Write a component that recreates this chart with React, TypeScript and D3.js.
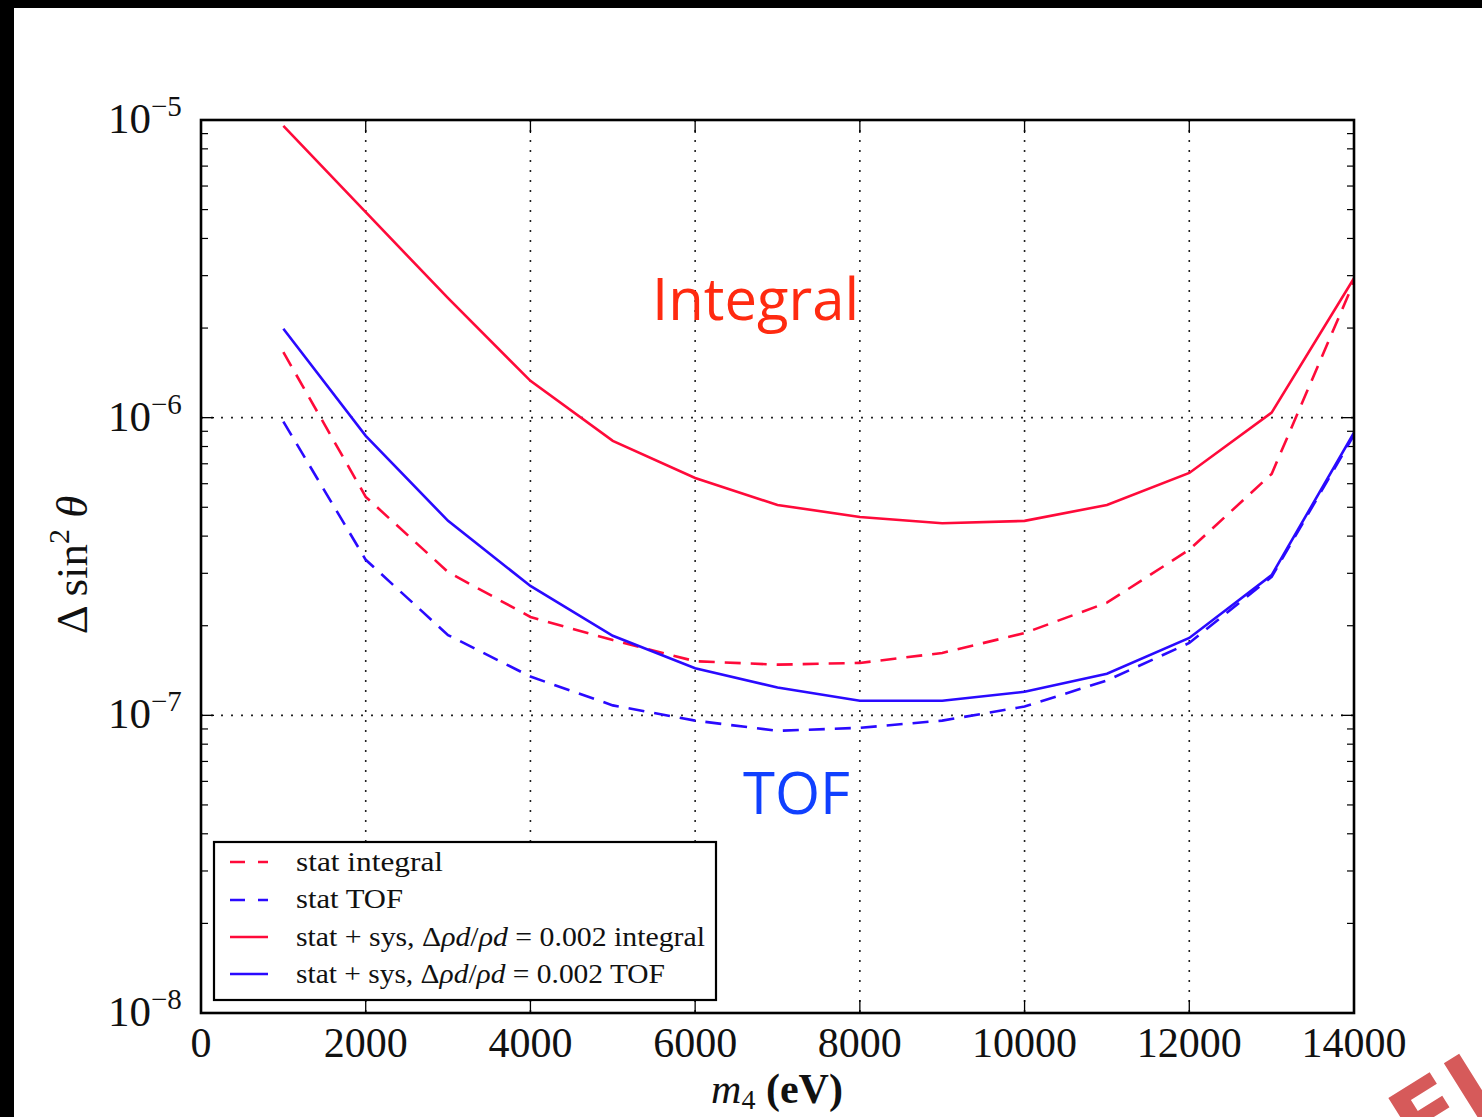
import React from "react";
import * as d3 from "d3";

const masses = [1000, 2000, 3000, 4000, 5000, 6000, 7000, 8000, 9000, 10000, 11000, 12000, 13000, 14000];
const statIntegral = [1.66e-6, 5.42e-7, 3.03e-7, 2.14e-7, 1.79e-7, 1.52e-7, 1.48e-7, 1.5e-7, 1.62e-7, 1.89e-7, 2.39e-7, 3.6e-7, 6.47e-7, 2.86e-6];
const statTOF = [9.7e-7, 3.33e-7, 1.86e-7, 1.35e-7, 1.08e-7, 9.6e-8, 8.87e-8, 9.08e-8, 9.6e-8, 1.07e-7, 1.31e-7, 1.75e-7, 2.92e-7, 8.75e-7];
const sysIntegral = [9.55e-6, 4.9e-6, 2.52e-6, 1.33e-6, 8.36e-7, 6.27e-7, 5.09e-7, 4.64e-7, 4.42e-7, 4.5e-7, 5.09e-7, 6.52e-7, 1.04e-6, 2.94e-6];
const sysTOF = [1.99e-6, 8.69e-7, 4.5e-7, 2.72e-7, 1.85e-7, 1.44e-7, 1.24e-7, 1.12e-7, 1.12e-7, 1.2e-7, 1.38e-7, 1.82e-7, 2.96e-7, 8.9e-7];
const xTicks = [0, 2000, 4000, 6000, 8000, 10000, 12000, 14000];
const yExponents = [-8, -7, -6, -5];

const RED = "#ff0a3a";
const BLUE = "#2a0aff";

export default function App() {
  const W = 1482, H = 1117;
  const x = d3.scaleLinear().domain([0, 14000]).range([201, 1354]);
  const y = d3.scaleLog().domain([1e-8, 1e-5]).range([1013, 120]);
  const line = (vals: number[]) =>
    d3.line<number>().x((_, i) => x(masses[i])).y((v) => y(v))(vals) as string;

  const minorY: number[] = [];
  for (let e = -8; e < -5; e++) for (let m = 2; m <= 9; m++) minorY.push(m * Math.pow(10, e));

  const serif = "'Liberation Serif', 'DejaVu Serif', serif";
  const series = [
    { vals: statIntegral, color: RED, dash: "16,10", label: "stat integral" },
    { vals: statTOF, color: BLUE, dash: "16,10", label: "stat TOF" },
    { vals: sysIntegral, color: RED, dash: null, label: "integral" },
    { vals: sysTOF, color: BLUE, dash: null, label: "TOF" },
  ];
  const legendRows = [862, 900, 937, 974];
  const legendLens = [147, 107, 409, 369];

  return (
    <svg width={W} height={H} style={{ position: "absolute", left: 0, top: 0, background: "#fff" }}>
      <rect x={0} y={0} width={W} height={H} fill="#fff" />
      <rect x={0} y={0} width={W} height={8} fill="#000" />
      <rect x={0} y={0} width={14} height={H} fill="#000" />

      {/* grid */}
      {xTicks.slice(1, -1).map((t) => (
        <line key={"gx" + t} x1={x(t)} x2={x(t)} y1={120} y2={1013} stroke="#222" strokeWidth={1.6} strokeDasharray="2,8" />
      ))}
      {[-7, -6].map((e) => (
        <line key={"gy" + e} x1={201} x2={1354} y1={y(Math.pow(10, e))} y2={y(Math.pow(10, e))} stroke="#222" strokeWidth={1.6} strokeDasharray="2,8" />
      ))}

      {/* ticks */}
      {xTicks.map((t) => (
        <g key={"xt" + t}>
          <line x1={x(t)} x2={x(t)} y1={1013} y2={1000} stroke="#000" strokeWidth={1.3} />
          <line x1={x(t)} x2={x(t)} y1={120} y2={133} stroke="#000" strokeWidth={1.3} />
          <text x={x(t)} y={1057} textAnchor="middle" fontFamily={serif} fontSize={42} fill="#111">{t}</text>
        </g>
      ))}
      {yExponents.map((e) => (
        <g key={"yt" + e}>
          <line x1={201} x2={214} y1={y(Math.pow(10, e))} y2={y(Math.pow(10, e))} stroke="#000" strokeWidth={1.3} />
          <line x1={1354} x2={1341} y1={y(Math.pow(10, e))} y2={y(Math.pow(10, e))} stroke="#000" strokeWidth={1.3} />
          <text x={108} y={y(Math.pow(10, e)) + 13} fontFamily={serif} fontSize={43} fill="#111">
            10
            <tspan fontSize={29} dy={-17}>{"\u2212" + Math.abs(e)}</tspan>
          </text>
        </g>
      ))}
      {minorY.map((v, i) => (
        <g key={"my" + i}>
          <line x1={201} x2={208} y1={y(v)} y2={y(v)} stroke="#000" strokeWidth={1.2} />
          <line x1={1354} x2={1347} y1={y(v)} y2={y(v)} stroke="#000" strokeWidth={1.2} />
        </g>
      ))}

      {/* curves */}
      <g clipPath="url(#plotclip)">
        {series.map((s, i) => (
          <path key={"s" + i} d={line(s.vals)} fill="none" stroke={s.color} strokeWidth={2.6}
            strokeDasharray={s.dash ?? undefined} strokeLinejoin="miter" />
        ))}
      </g>
      <defs>
        <clipPath id="plotclip"><rect x={201} y={120} width={1153} height={893} /></clipPath>
      </defs>

      {/* frame */}
      <rect x={201} y={120} width={1153} height={893} fill="none" stroke="#000" strokeWidth={2.6} />

      {/* annotations */}
      <text x={652} y={320} fontFamily="'Open Sans', 'Noto Sans', sans-serif" fontSize={58} fill="#ff2a10">Integral</text>
      <text x={743} y={814} fontFamily="'Open Sans', 'Noto Sans', sans-serif" fontSize={58} fill="#1040ff">TOF</text>

      {/* legend */}
      <rect x={214} y={842} width={502} height={158} fill="#fff" stroke="#000" strokeWidth={2.2} />
      {series.map((s, i) => (
        <line key={"lg" + i} x1={230} x2={268} y1={legendRows[i]} y2={legendRows[i]} stroke={s.color}
          strokeWidth={2.6} strokeDasharray={s.dash ? "15,13" : undefined} />
      ))}
      <text x={296} y={871} fontFamily={serif} fontSize={27} fill="#111" textLength={legendLens[0]} lengthAdjust="spacingAndGlyphs">stat integral</text>
      <text x={296} y={908} fontFamily={serif} fontSize={27} fill="#111" textLength={legendLens[1]} lengthAdjust="spacingAndGlyphs">stat TOF</text>
      {[2, 3].map((i) => (
        <text key={"lt" + i} x={296} y={legendRows[i] + 9} fontFamily={serif} fontSize={27} fill="#111"
          textLength={legendLens[i]} lengthAdjust="spacingAndGlyphs">
          {"stat + sys, \u0394"}
          <tspan fontStyle="italic">{"\u03C1d"}</tspan>
          {"/"}
          <tspan fontStyle="italic">{"\u03C1d"}</tspan>
          {" = 0.002 " + series[i].label}
        </text>
      ))}

      {/* axis labels */}
      <text transform="translate(87,565) rotate(-90)" textAnchor="middle" fontFamily={serif} fontSize={45} fill="#111">
        {"\u0394 sin"}
        <tspan fontSize={30} dy={-18}>2</tspan>
        <tspan dy={18} fontStyle="italic">{" \u03B8"}</tspan>
      </text>
      <text x={777} y={1103} textAnchor="middle" fontFamily={serif} fontSize={42} fill="#111">
        <tspan fontStyle="italic">m</tspan>
        <tspan fontSize={28} dy={6}>4</tspan>
        <tspan dy={-6} fontWeight="bold">{" (eV)"}</tspan>
      </text>

      {/* watermark fragment */}
      <text x={1418} y={1162} transform="rotate(-32,1418,1162)" fontFamily="'DejaVu Sans', sans-serif" fontWeight="bold"
        fontSize={96} fill="#d65a5a">EL</text>
    </svg>
  );
}
